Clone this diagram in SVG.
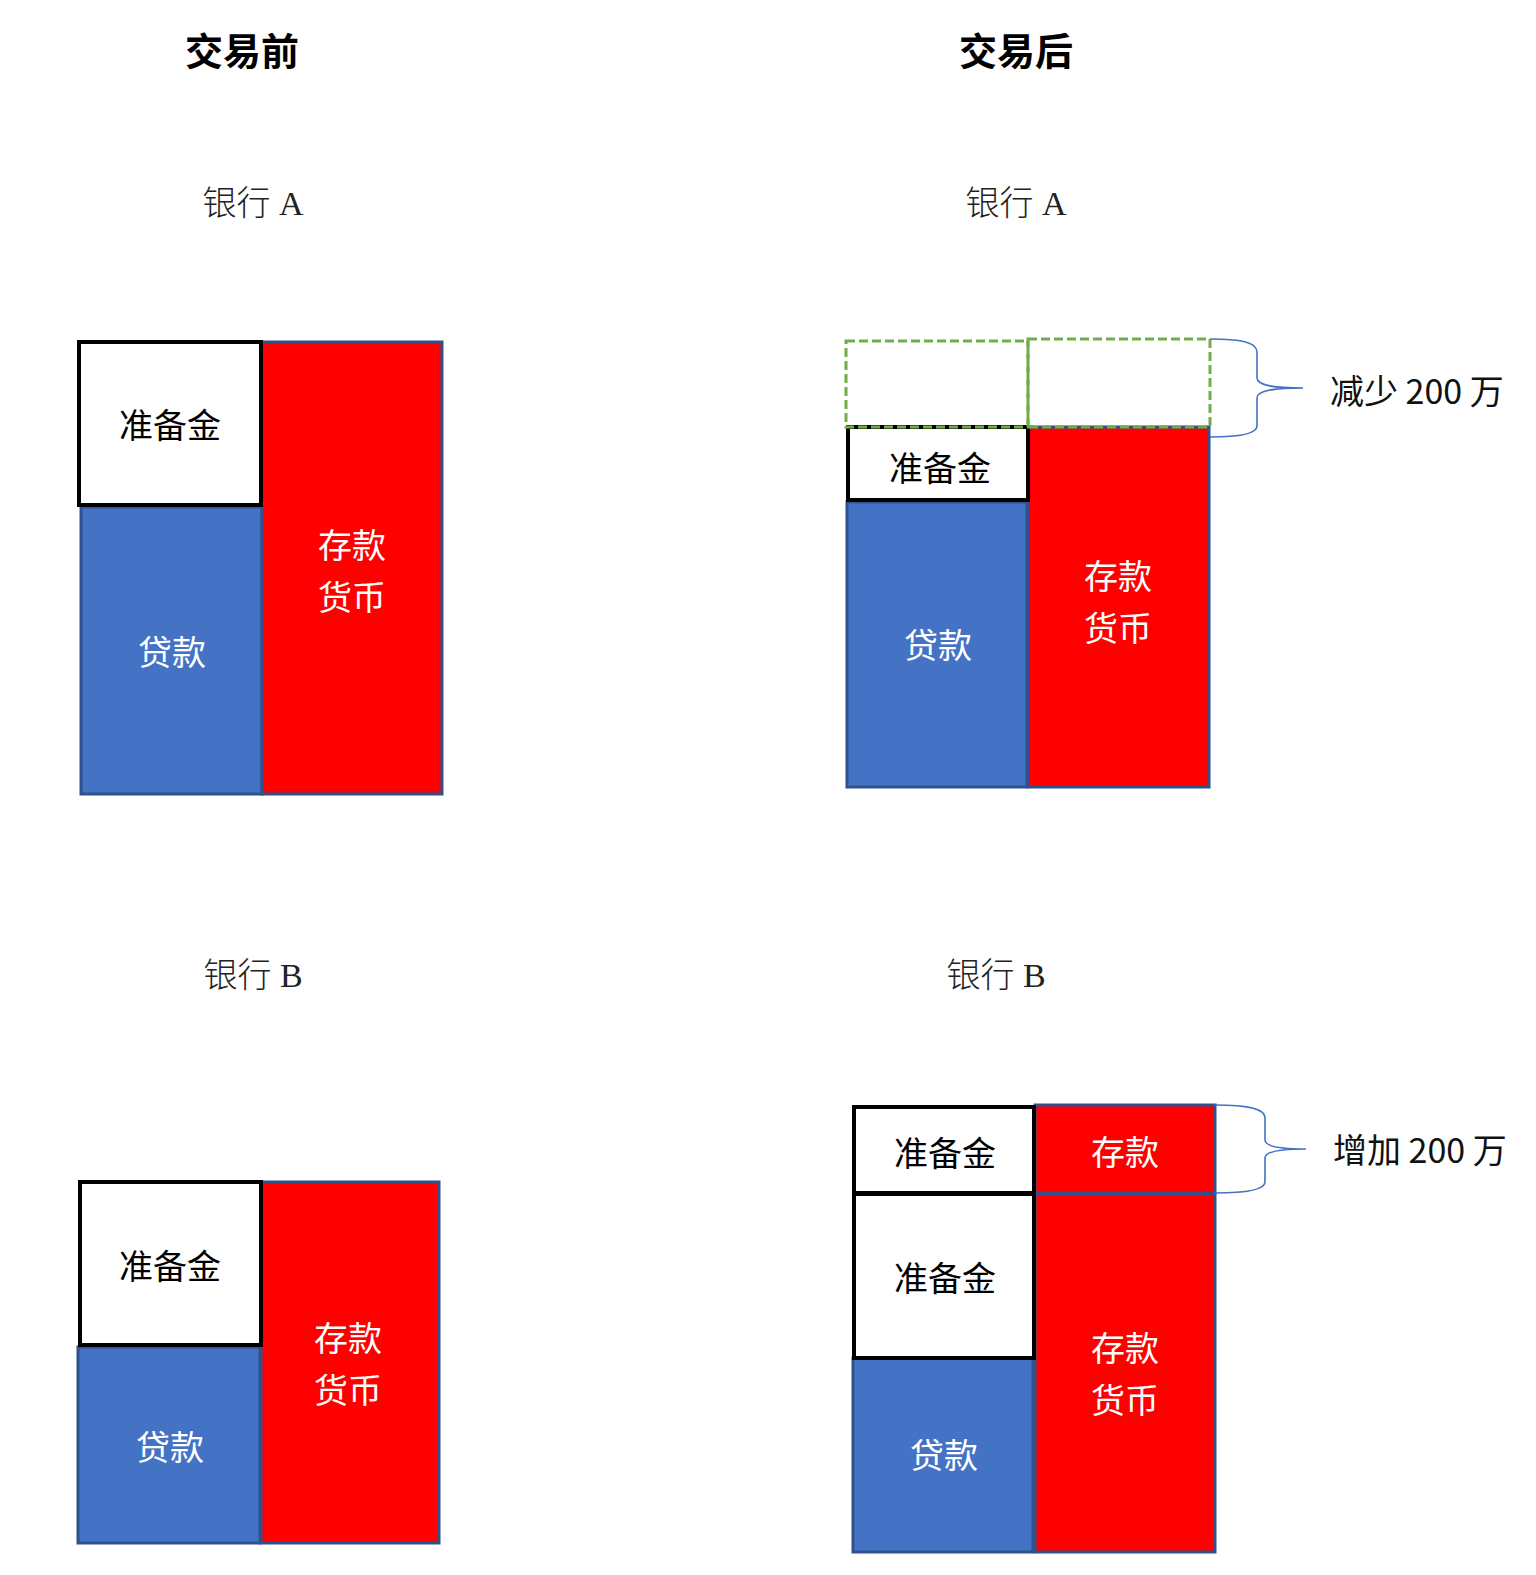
<svg xmlns="http://www.w3.org/2000/svg" width="1536" height="1575" viewBox="0 0 1536 1575">
<style>
.bg{fill:#ffffff}
.res{fill:#ffffff;stroke:#000000;stroke-width:4}
.loan{fill:#4472C4;stroke:#2F528F;stroke-width:3}
.dep{fill:#FF0000;stroke:#2F528F;stroke-width:3}
.dash{fill:none;stroke:#70AD47;stroke-width:3;stroke-dasharray:9 4}
.brace{fill:none;stroke:#4472C4;stroke-width:1.6}
text{font-family:"Noto Sans CJK SC","Liberation Sans",sans-serif;dominant-baseline:central;text-anchor:middle}
.t{font-size:34px;fill:#000000}
.w{font-size:34px;fill:#ffffff}
.title{font-size:38px;font-weight:700;fill:#000000;font-family:"Noto Sans CJK SC","Liberation Serif",serif}
.bank{font-size:34px;font-weight:300;fill:#222222;font-family:"Liberation Serif","Noto Sans CJK SC",serif}
.note{font-size:34px;fill:#111111;text-anchor:start}
</style>
<rect class="bg" x="0" y="0" width="1536" height="1575"/>

<g id="titles">
<text class="title" x="242" y="48">交易前</text>
<text class="title" x="1016" y="48">交易后</text>
<text class="bank" x="253" y="203">银行 A</text>
<text class="bank" x="1016" y="203">银行 A</text>
<text class="bank" x="253" y="975">银行 B</text>
<text class="bank" x="996" y="975">银行 B</text>
</g>

<g id="before-A">
<rect class="loan" x="81" y="507" width="181" height="287"/>
<rect class="dep" x="262" y="342" width="180" height="452"/>
<rect class="res" x="79" y="342" width="182" height="163"/>
<text class="t" x="170" y="423">准备金</text>
<text class="w" x="172" y="650">贷款</text>
<text class="w" x="352" y="543">存款</text>
<text class="w" x="352" y="595">货币</text>
</g>

<g id="after-A">
<rect class="loan" x="847" y="502" width="180" height="285"/>
<rect class="dep" x="1028" y="427" width="181" height="360"/>
<rect class="res" x="848" y="427" width="180" height="73"/>
<rect class="dash" x="846" y="341" width="182" height="86"/>
<rect class="dash" x="1028" y="339" width="182" height="88"/>
<text class="t" x="940" y="466">准备金</text>
<text class="w" x="938" y="643">贷款</text>
<text class="w" x="1118" y="574">存款</text>
<text class="w" x="1118" y="626">货币</text>
</g>

<g id="before-B">
<rect class="loan" x="78" y="1347" width="182" height="196"/>
<rect class="dep" x="261" y="1182" width="178" height="361"/>
<rect class="res" x="80" y="1182" width="181" height="163"/>
<text class="t" x="170" y="1264">准备金</text>
<text class="w" x="170" y="1445">贷款</text>
<text class="w" x="348" y="1336">存款</text>
<text class="w" x="348" y="1388">货币</text>
</g>

<g id="after-B">
<rect class="loan" x="853" y="1358" width="180" height="194"/>
<rect class="dep" x="1035" y="1194" width="180" height="358"/>
<rect class="dep" x="1035" y="1105" width="180" height="88"/>
<rect class="res" x="854" y="1107" width="180" height="86"/>
<rect class="res" x="854" y="1194" width="180" height="164"/>
<text class="t" x="945" y="1151">准备金</text>
<text class="w" x="1125" y="1150">存款</text>
<text class="t" x="945" y="1276">准备金</text>
<text class="w" x="944" y="1453">贷款</text>
<text class="w" x="1125" y="1346">存款</text>
<text class="w" x="1125" y="1398">货币</text>
</g>

<g id="connectors">
<path class="brace" d="M1210,339 C1240,339 1257,342 1257,352 L1257,378 C1257,386 1275,388 1303,388 C1275,388 1257,390 1257,398 L1257,426 C1257,434 1240,437 1210,437"/>
<path class="brace" d="M1215,1105 C1246,1105 1265,1108 1265,1118 L1265,1140 C1265,1147 1282,1149 1306,1149 C1282,1149 1265,1151 1265,1158 L1265,1182 C1265,1190 1246,1193 1215,1193"/>
</g>

<g id="notes">
<text class="note" x="1330" y="389">减少 200 万</text>
<text class="note" x="1333" y="1148">增加 200 万</text>
</g>
</svg>
